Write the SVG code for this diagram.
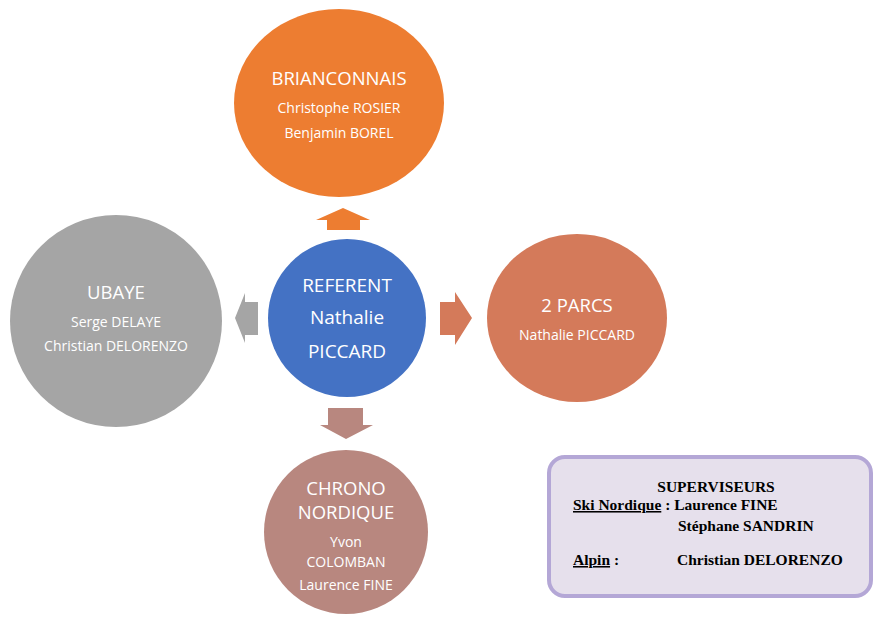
<svg xmlns="http://www.w3.org/2000/svg" width="875" height="617" viewBox="0 0 875 617">
<style>
.t{font-family:"Open Sans","Liberation Sans",sans-serif;fill:#ffffff;text-anchor:middle}
.h{font-size:18.5px}
.s{font-size:14px}
.c{font-size:19px}
.b{font-family:"Liberation Serif","Times New Roman",serif;font-weight:bold;font-size:15.5px;fill:#000}
</style>
<rect width="875" height="617" fill="#ffffff"/>
<g id="connectors">
<polygon points="327,230 360,230 360,220 370,220 343,208 316,220 327,220" fill="#ED7D31"/>
<polygon points="258,302 258,335 245,335 245,343 235,318 245,293 245,302" fill="#A5A5A5"/>
<polygon points="440,302 455,302 455,292 472,318 455,345 455,335 440,335" fill="#D47A5A"/>
<polygon points="328,408 363,408 363,425 373,425 346,439 320,425 328,425" fill="#B8877F"/>
</g>
<g id="brianconnais">
<ellipse cx="339" cy="103" rx="105" ry="94" fill="#ED7D31"/>
<text class="t h" x="339" y="85">BRIANCONNAIS</text>
<text class="t s" x="339" y="113">Christophe ROSIER</text>
<text class="t s" x="339" y="138">Benjamin BOREL</text>
</g>
<g id="ubaye">
<circle cx="116" cy="321" r="106" fill="#A5A5A5"/>
<text class="t h" x="116" y="299">UBAYE</text>
<text class="t s" x="116" y="327">Serge DELAYE</text>
<text class="t s" x="116" y="351">Christian DELORENZO</text>
</g>
<g id="referent">
<circle cx="347" cy="318" r="79" fill="#4472C4"/>
<text class="t c" x="347" y="292">REFERENT</text>
<text class="t c" x="347" y="324">Nathalie</text>
<text class="t c" x="347" y="358">PICCARD</text>
</g>
<g id="parcs">
<ellipse cx="577" cy="318" rx="90" ry="84" fill="#D47A5A"/>
<text class="t h" x="577" y="312">2 PARCS</text>
<text class="t s" x="577" y="340">Nathalie PICCARD</text>
</g>
<g id="chrono">
<circle cx="346" cy="532" r="82" fill="#B8877F"/>
<text class="t h" x="346" y="495">CHRONO</text>
<text class="t h" x="346" y="519">NORDIQUE</text>
<text class="t s" x="346" y="547">Yvon</text>
<text class="t s" x="346" y="567">COLOMBAN</text>
<text class="t s" x="346" y="590">Laurence FINE</text>
</g>
<g id="superviseurs">
<rect x="549" y="457" width="322" height="139" rx="16" fill="#E6E0EC" stroke="#B4A7D6" stroke-width="4"/>
<text class="b" x="716" y="492" text-anchor="middle">SUPERVISEURS</text>
<text class="b" x="573" y="510"><tspan text-decoration="underline">Ski Nordique</tspan> : Laurence FINE</text>
<text class="b" x="678" y="531">Stéphane SANDRIN</text>
<text class="b" x="573" y="565"><tspan text-decoration="underline">Alpin</tspan> :</text>
<text class="b" x="677" y="565">Christian DELORENZO</text>
</g>
</svg>
